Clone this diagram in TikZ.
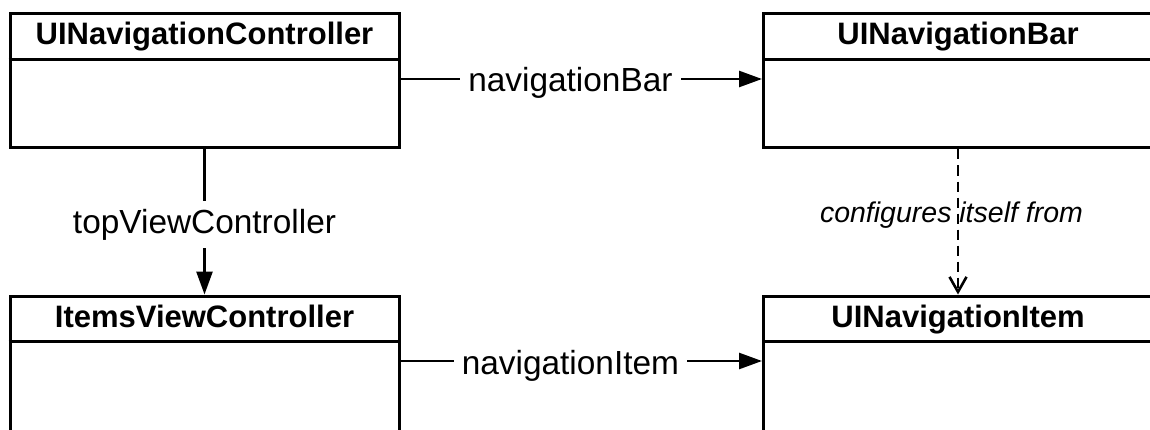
\documentclass[tikz,border=0pt]{standalone}
\usepackage{fontspec}
\setmainfont{Liberation Sans}
\usetikzlibrary{arrows.meta}

\tikzset{
  classbox/.style={draw, line width=3pt, minimum width=389pt, inner sep=0pt},
  classtitle/.style={font=\fontsize{31}{36}\selectfont\bfseries, anchor=base},
  link/.style={line width=2.6pt, -{Triangle[length=23pt,width=16pt]}},
  linklabel/.style={font=\fontsize{33.4}{40}\selectfont, fill=white, inner sep=8pt, anchor=base},
  fromlink/.style={line width=2.6pt, dash pattern=on 10pt off 6pt, -{Straight Barb[length=15pt,width=17pt]}},
  fromlabel/.style={font=\fontsize{28.5}{34}\selectfont\itshape, inner sep=0pt, anchor=base},
}

\begin{document}
\begin{tikzpicture}[x=1pt,y=1pt]
\useasboundingbox (0,0) rectangle (1150,429);
\clip (0,0) rectangle (1150,429);
\fill[white] (0,0) rectangle (1150,429);
% classes
\node[classbox, minimum height=134pt] (navctrl) at (204.5,348) {};
\node[classbox, minimum height=134pt] (navbar) at (958,348) {};
\node[classbox, minimum height=160pt] (itemsvc) at (204.5,53) {};
\node[classbox, minimum height=160pt] (navitem) at (958,53) {};
\foreach \b/\t in {navctrl/UINavigationController, navbar/UINavigationBar,
                   itemsvc/ItemsViewController, navitem/UINavigationItem} {
  \node[classtitle] (\b-title) at ([yshift=-32.5pt]\b.north) {\t};
  \draw[line width=3pt] ([yshift=-47pt]\b.north west) -- ([yshift=-47pt]\b.north east);
}
% relations
\draw[link] ([yshift=-66.5pt]navctrl.north east) -- node[linklabel, pos=0.47, yshift=-13pt] {navigationBar} ([yshift=-66.5pt]navbar.north west);
\draw[link] ([yshift=-66.5pt]itemsvc.north east) -- node[linklabel, pos=0.47, yshift=-13pt] {navigationItem} ([yshift=-66.5pt]navitem.north west);
\draw[link] (navctrl.south) -- node[linklabel, yshift=-11pt] {topViewController} (itemsvc.north);
\draw[fromlink] (navbar.south) -- node[fromlabel, xshift=-6.5pt] {configures itself from} (navitem.north);
\end{tikzpicture}
\end{document}
